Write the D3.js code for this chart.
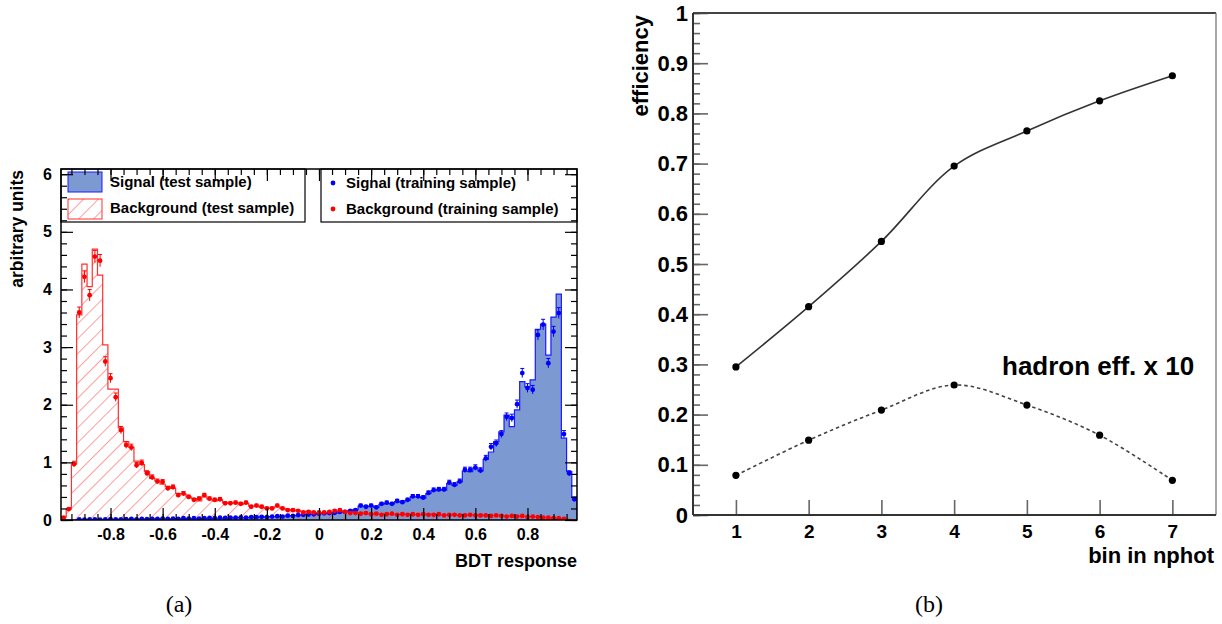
<!DOCTYPE html>
<html>
<head>
<meta charset="utf-8">
<script src="https://cdn.jsdelivr.net/npm/d3@7"></script>
<style>
  body { margin: 0; background: #fff; }
  svg { display: block; font-family: "Liberation Sans", Arial, Helvetica, sans-serif; font-weight: bold; }
</style>
</head>
<body>
<svg id="chart" width="1222" height="624"></svg>
<script>
// ---------- panel (a) : BDT response, 99 bins of 0.02 from -0.99 to 0.99
var bdtMin = -0.99, bdtMax = 0.99, bdtBin = 0.02;

var sigTest = [
  0, 0, 0, 0.005, 0.01, 0.005, 0.01, 0.01, 0.01, 0.01,
  0.01, 0.015, 0.01, 0.015, 0.015, 0.015, 0.02, 0.015, 0.02, 0.02,
  0.02, 0.02, 0.025, 0.02, 0.025, 0.025, 0.03, 0.025, 0.03, 0.03,
  0.03, 0.035, 0.035, 0.04, 0.04, 0.04, 0.045, 0.05, 0.05, 0.055,
  0.06, 0.06, 0.065, 0.07, 0.075, 0.08, 0.09, 0.1, 0.1, 0.11,
  0.11, 0.12, 0.12, 0.13, 0.15, 0.16, 0.18, 0.24, 0.23, 0.24,
  0.22, 0.27, 0.29, 0.28, 0.32, 0.31, 0.34, 0.40, 0.40, 0.38,
  0.46, 0.51, 0.53, 0.52, 0.63, 0.60, 0.66, 0.85, 0.84, 0.90,
  0.85, 1.05, 1.18, 1.36, 1.53, 1.82, 1.62, 1.91, 2.40, 2.31,
  2.43, 3.31, 3.40, 2.86, 3.52, 3.92, 1.42, 0.84, 0.40
];
var bkgTest = [
  0.05, 0.19, 0.97, 3.56, 4.44, 4.05, 4.70, 4.25, 3.04, 2.27,
  2.27, 1.60, 1.36, 1.26, 1.02, 0.96, 0.84, 0.72, 0.68, 0.62,
  0.58, 0.55, 0.46, 0.45, 0.40, 0.37, 0.33, 0.40, 0.36, 0.33,
  0.35, 0.30, 0.29, 0.30, 0.27, 0.29, 0.24, 0.24, 0.22, 0.20,
  0.21, 0.23, 0.20, 0.18, 0.17, 0.16, 0.14, 0.15, 0.13, 0.13,
  0.12, 0.12, 0.13, 0.15, 0.16, 0.14, 0.12, 0.12, 0.11, 0.11,
  0.10, 0.10, 0.11, 0.10, 0.09, 0.10, 0.10, 0.09, 0.10, 0.09,
  0.09, 0.10, 0.09, 0.09, 0.08, 0.09, 0.08, 0.09, 0.08, 0.08,
  0.09, 0.07, 0.08, 0.08, 0.07, 0.07, 0.06, 0.07, 0.06, 0.06,
  0.05, 0.06, 0.05, 0.04, 0.03, 0.03, 0.02, 0.01, 0
];
var sigTrain = [
  0, 0, 0, 0.01, 0.005, 0.01, 0.01, 0.005, 0.01, 0.015,
  0.01, 0.01, 0.015, 0.02, 0.01, 0.02, 0.015, 0.02, 0.02, 0.025,
  0.02, 0.025, 0.02, 0.03, 0.025, 0.03, 0.025, 0.03, 0.035, 0.03,
  0.04, 0.035, 0.04, 0.04, 0.045, 0.04, 0.05, 0.05, 0.055, 0.05,
  0.06, 0.065, 0.06, 0.075, 0.07, 0.085, 0.09, 0.095, 0.1, 0.11,
  0.115, 0.12, 0.125, 0.14, 0.14, 0.16, 0.17, 0.25, 0.23, 0.25,
  0.22, 0.28, 0.30, 0.28, 0.33, 0.31, 0.35, 0.41, 0.41, 0.39,
  0.47, 0.52, 0.53, 0.53, 0.65, 0.61, 0.67, 0.87, 0.87, 0.91,
  0.86, 1.07, 1.27, 1.33, 1.49, 1.79, 1.77, 2.01, 2.55, 2.29,
  2.26, 3.21, 3.39, 2.72, 3.27, 3.59, 1.49, 0.81, 0.36
];
var bkgTrain = [
  0.04, 0.19, 0.97, 3.60, 4.22, 3.90, 4.57, 4.50, 2.75, 2.46,
  2.13, 1.56, 1.30, 1.26, 0.95, 0.99, 0.81, 0.74, 0.67, 0.66,
  0.55, 0.57, 0.43, 0.46, 0.40, 0.35, 0.37, 0.43, 0.37, 0.35,
  0.36, 0.29, 0.29, 0.30, 0.28, 0.30, 0.23, 0.25, 0.23, 0.20,
  0.20, 0.25, 0.20, 0.17, 0.17, 0.16, 0.13, 0.14, 0.13, 0.13,
  0.13, 0.14, 0.16, 0.17, 0.14, 0.12, 0.12, 0.11, 0.12, 0.10,
  0.11, 0.09, 0.10, 0.11, 0.09, 0.10, 0.09, 0.10, 0.09, 0.10,
  0.09, 0.09, 0.10, 0.08, 0.09, 0.09, 0.08, 0.08, 0.09, 0.08,
  0.08, 0.08, 0.07, 0.08, 0.07, 0.06, 0.07, 0.06, 0.07, 0.05,
  0.06, 0.05, 0.04, 0.04, 0.03, 0.03, 0.02, 0, 0
];
var bdtTicks = [-0.8, -0.6, -0.4, -0.2, 0, 0.2, 0.4, 0.6, 0.8];
var countTicks = [0, 1, 2, 3, 4, 5, 6];
var legendTest = ["Signal (test sample)", "Background (test sample)"];
var legendTrain = ["Signal (training sample)", "Background (training sample)"];

// ---------- panel (b) : efficiency vs nphot bin
var nphotBins = [1, 2, 3, 4, 5, 6, 7];
var photonEff = [0.295, 0.415, 0.545, 0.695, 0.765, 0.825, 0.875];
var hadronEffX10 = [0.079, 0.149, 0.209, 0.259, 0.219, 0.159, 0.069];
var effTicks = [0, 0.1, 0.2, 0.3, 0.4, 0.5, 0.6, 0.7, 0.8, 0.9, 1];

var svg = d3.select("#chart");
var defs = svg.append("defs");

// hatch for the background histogram
var pat = defs.append("pattern")
  .attr("id", "hatch")
  .attr("patternUnits", "userSpaceOnUse")
  .attr("width", 10.5).attr("height", 10.5)
  .attr("patternTransform", "rotate(45)");
pat.append("line")
  .attr("x1", 0).attr("y1", 0).attr("x2", 0).attr("y2", 10.5)
  .attr("stroke", "#ff5050").attr("stroke-width", 1.1);

// ================= panel (a) =================
var A = {left: 61, right: 577, top: 169, bottom: 520};
var xa = d3.scaleLinear().domain([bdtMin, bdtMax]).range([A.left, A.right]);
var ya = d3.scaleLinear().domain([0, 6.09]).range([A.bottom, A.top]);

defs.append("clipPath").attr("id", "clipA")
  .append("rect").attr("x", A.left).attr("y", A.top)
  .attr("width", A.right - A.left).attr("height", A.bottom - A.top);

var ga = svg.append("g");
var plotA = ga.append("g").attr("clip-path", "url(#clipA)");

function stepPoints(vals) {
  var pts = [[bdtMin, 0]];
  vals.forEach(function (v, i) { pts.push([bdtMin + i * bdtBin, v]); });
  pts.push([bdtMin + vals.length * bdtBin, vals[vals.length - 1]]);
  pts.push([bdtMin + vals.length * bdtBin, 0]);
  return pts;
}
var histArea = d3.area().curve(d3.curveStepAfter)
  .x(function (d) { return xa(d[0]); })
  .y0(ya(0))
  .y1(function (d) { return ya(d[1]); });
var histLine = d3.line().curve(d3.curveStepAfter)
  .x(function (d) { return xa(d[0]); })
  .y(function (d) { return ya(d[1]); });

plotA.append("path").datum(stepPoints(sigTest))
  .attr("d", histArea).attr("fill", "#7d99d1");
plotA.append("path").datum(stepPoints(sigTest))
  .attr("d", histLine).attr("fill", "none").attr("stroke", "#1a1aff").attr("stroke-width", 1.2);
plotA.append("path").datum(stepPoints(bkgTest))
  .attr("d", histArea).attr("fill", "url(#hatch)");
plotA.append("path").datum(stepPoints(bkgTest))
  .attr("d", histLine).attr("fill", "none").attr("stroke", "#ff3030").attr("stroke-width", 1.2);

// training samples as points with error bars
function drawPoints(vals, color) {
  var data = [];
  vals.forEach(function (v, i) { if (v > 0) data.push({x: bdtMin + (i + 0.5) * bdtBin, v: v}); });
  var g = plotA.append("g").attr("stroke", color).attr("fill", color);
  var pts = g.selectAll("g").data(data).enter().append("g");
  pts.append("line")
    .attr("x1", function (d) { return xa(d.x); })
    .attr("x2", function (d) { return xa(d.x); })
    .attr("y1", function (d) { return ya(d.v + 0.05 * Math.sqrt(d.v)); })
    .attr("y2", function (d) { return ya(Math.max(0, d.v - 0.05 * Math.sqrt(d.v))); })
    .attr("stroke-width", 1);
  pts.append("line")
    .attr("x1", function (d) { return xa(d.x) - 2; })
    .attr("x2", function (d) { return xa(d.x) + 2; })
    .attr("y1", function (d) { return ya(d.v + 0.05 * Math.sqrt(d.v)); })
    .attr("y2", function (d) { return ya(d.v + 0.05 * Math.sqrt(d.v)); })
    .attr("stroke-width", 1);
  pts.append("circle")
    .attr("cx", function (d) { return xa(d.x); })
    .attr("cy", function (d) { return ya(d.v); })
    .attr("r", 2.4).attr("stroke", "none");
}
drawPoints(sigTrain, "#0000ff");
drawPoints(bkgTrain, "#ff0000");

// legends
var leg1 = ga.append("g");
leg1.append("rect").attr("x", A.left).attr("y", A.top).attr("width", 244).attr("height", 53)
  .attr("fill", "#fff").attr("stroke", "#000").attr("stroke-width", 1.2);
leg1.append("rect").attr("x", 68).attr("y", 172).attr("width", 34).attr("height", 20)
  .attr("fill", "#7d99d1").attr("stroke", "#1a1aff");
leg1.append("rect").attr("x", 68).attr("y", 199).attr("width", 34).attr("height", 20)
  .attr("fill", "url(#hatch)").attr("stroke", "#ff3030");
leg1.selectAll("text").data(legendTest).enter().append("text")
  .attr("x", 110).attr("y", function (d, i) { return 187 + i * 26; })
  .attr("font-size", 15).text(function (d) { return d; });

var leg2 = ga.append("g");
leg2.append("rect").attr("x", 321).attr("y", A.top).attr("width", A.right - 321).attr("height", 53)
  .attr("fill", "#fff").attr("stroke", "#000").attr("stroke-width", 1.2);
leg2.selectAll("circle").data(["#0000ff", "#ff0000"]).enter().append("circle")
  .attr("cx", 333).attr("cy", function (d, i) { return 183 + i * 26; })
  .attr("r", 2.4).attr("fill", function (d) { return d; });
leg2.selectAll("text").data(legendTrain).enter().append("text")
  .attr("x", 346).attr("y", function (d, i) { return 188 + i * 26; })
  .attr("font-size", 15).text(function (d) { return d; });

// axes of panel (a), ticks pointing inwards on all four sides
var bdtMinor = d3.range(-0.95, 0.96, 0.05);
var countMinor = d3.range(0, 6.01, 0.2);
function styleAxis(g, size) {
  g.select(".domain").remove();
  g.selectAll(".tick line").attr("stroke", "#000").attr("stroke-width", 1.2);
  g.selectAll(".tick text").attr("font-size", size).attr("fill", "#000");
}
var fmtBdt = function (d) { return d === 0 ? "0" : d.toFixed(1); };

ga.append("g").attr("transform", "translate(0," + A.bottom + ")")
  .call(d3.axisBottom(xa).tickValues(bdtTicks).tickFormat(fmtBdt).tickSize(-12).tickPadding(9))
  .call(styleAxis, 16);
ga.append("g").attr("transform", "translate(0," + A.bottom + ")")
  .call(d3.axisBottom(xa).tickValues(bdtMinor).tickFormat("").tickSize(-6))
  .call(styleAxis, 16);
ga.append("g").attr("transform", "translate(0," + A.top + ")")
  .call(d3.axisTop(xa).tickValues(bdtTicks).tickFormat("").tickSize(-12))
  .call(styleAxis, 16);
ga.append("g").attr("transform", "translate(0," + A.top + ")")
  .call(d3.axisTop(xa).tickValues(bdtMinor).tickFormat("").tickSize(-6))
  .call(styleAxis, 16);
ga.append("g").attr("transform", "translate(" + A.left + ",0)")
  .call(d3.axisLeft(ya).tickValues(countTicks).tickFormat(d3.format("d")).tickSize(-12).tickPadding(9))
  .call(styleAxis, 16);
ga.append("g").attr("transform", "translate(" + A.left + ",0)")
  .call(d3.axisLeft(ya).tickValues(countMinor).tickFormat("").tickSize(-6))
  .call(styleAxis, 16);
ga.append("g").attr("transform", "translate(" + A.right + ",0)")
  .call(d3.axisRight(ya).tickValues(countTicks).tickFormat("").tickSize(-12))
  .call(styleAxis, 16);
ga.append("g").attr("transform", "translate(" + A.right + ",0)")
  .call(d3.axisRight(ya).tickValues(countMinor).tickFormat("").tickSize(-6))
  .call(styleAxis, 16);

ga.append("rect").attr("x", A.left).attr("y", A.top)
  .attr("width", A.right - A.left).attr("height", A.bottom - A.top)
  .attr("fill", "none").attr("stroke", "#000").attr("stroke-width", 1.5);

ga.append("text").attr("x", A.right).attr("y", 567).attr("text-anchor", "end")
  .attr("font-size", 18).text("BDT response");
ga.append("text").attr("transform", "translate(23,170) rotate(-90)")
  .attr("text-anchor", "end").attr("font-size", 17.5).text("arbitrary units");
svg.append("text").attr("x", 179).attr("y", 612).attr("text-anchor", "middle")
  .attr("font-family", "'Liberation Serif', 'DejaVu Serif', serif").attr("font-weight", "normal")
  .attr("font-size", 24).text("(a)");

// ================= panel (b) =================
var B = {left: 693, right: 1216, top: 13, bottom: 515};
var xb = d3.scaleLinear().domain([0.41, 7.6]).range([B.left, B.right]);
var yb = d3.scaleLinear().domain([0, 1]).range([B.bottom, B.top]);
var gb = svg.append("g");

var effMinor = d3.range(0, 1.001, 0.02);
function styleAxisB(g, size) {
  g.select(".domain").remove();
  g.selectAll(".tick line").attr("stroke", "#666").attr("stroke-width", 1.6);
  g.selectAll(".tick text").attr("font-size", size).attr("fill", "#000");
}
gb.append("g").attr("transform", "translate(" + B.left + ",0)")
  .call(d3.axisLeft(yb).tickValues(effMinor).tickFormat("").tickSize(-7))
  .call(styleAxisB, 22);
gb.append("g").attr("transform", "translate(" + B.left + ",0)")
  .call(d3.axisLeft(yb).tickValues(effTicks)
    .tickFormat(function (d) { return d === 0 || d === 1 ? String(d) : d.toFixed(1); })
    .tickSize(-15).tickPadding(5))
  .call(styleAxisB, 22);
gb.append("g").attr("transform", "translate(0," + B.bottom + ")")
  .call(d3.axisBottom(xb).tickValues(nphotBins).tickFormat(d3.format("d")).tickSize(-15).tickPadding(10))
  .call(styleAxisB, 19);

// frame
gb.append("line").attr("x1", B.left).attr("x2", B.right).attr("y1", B.top).attr("y2", B.top)
  .attr("stroke", "#444").attr("stroke-width", 2);
gb.append("line").attr("x1", B.right).attr("x2", B.right).attr("y1", B.top).attr("y2", B.bottom)
  .attr("stroke", "#777").attr("stroke-width", 1.3);
gb.append("line").attr("x1", B.left).attr("x2", B.right).attr("y1", B.bottom).attr("y2", B.bottom)
  .attr("stroke", "#333").attr("stroke-width", 2);
gb.append("line").attr("x1", B.left).attr("x2", B.left).attr("y1", B.top).attr("y2", B.bottom)
  .attr("stroke", "#333").attr("stroke-width", 2);

var curve = d3.line().curve(d3.curveCatmullRom.alpha(0.5))
  .x(function (d) { return xb(d[0]); })
  .y(function (d) { return yb(d[1]); });
var photonPts = nphotBins.map(function (b, i) { return [b, photonEff[i]]; });
var hadronPts = nphotBins.map(function (b, i) { return [b, hadronEffX10[i]]; });

gb.append("path").datum(photonPts).attr("d", curve)
  .attr("fill", "none").attr("stroke", "#333").attr("stroke-width", 1.6);
gb.append("path").datum(hadronPts).attr("d", curve)
  .attr("fill", "none").attr("stroke", "#444").attr("stroke-width", 1.6)
  .attr("stroke-dasharray", "3.5,3");

[photonPts, hadronPts].forEach(function (pts) {
  gb.append("g").selectAll("circle").data(pts).enter().append("circle")
    .attr("cx", function (d) { return xb(d[0]); })
    .attr("cy", function (d) { return yb(d[1]); })
    .attr("r", 3.6).attr("fill", "#000");
});

gb.append("text").attr("x", 1002).attr("y", 375).attr("font-size", 26).text("hadron eff. x 10");
gb.append("text").attr("x", 1214).attr("y", 563).attr("text-anchor", "end")
  .attr("font-size", 22).text("bin in nphot");
gb.append("text").attr("transform", "translate(648,15) rotate(-90)")
  .attr("text-anchor", "end").attr("font-size", 22).text("efficiency");
svg.append("text").attr("x", 929).attr("y", 612).attr("text-anchor", "middle")
  .attr("font-family", "'Liberation Serif', 'DejaVu Serif', serif").attr("font-weight", "normal")
  .attr("font-size", 24).text("(b)");
</script>
</body>
</html>
